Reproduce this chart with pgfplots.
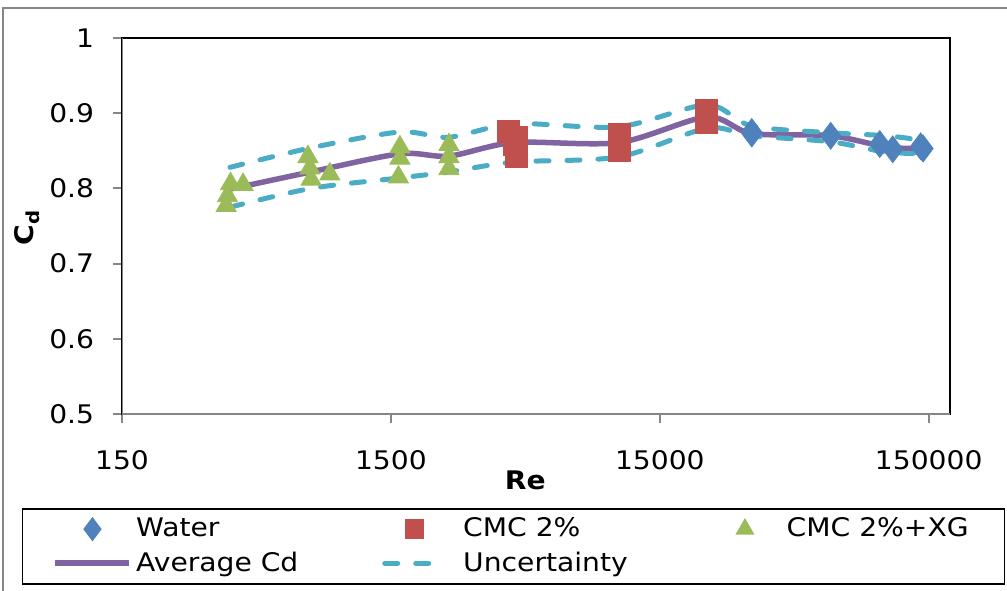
\documentclass[border=0pt]{standalone}
\usepackage{fontspec}
\setmainfont[FakeStretch=1.1]{DejaVu Sans}
\usepackage{pgfplots}
\pgfplotsset{compat=1.18}
\definecolor{cwater}{HTML}{4F81BD}
\definecolor{ccmc}{HTML}{C0504D}
\definecolor{cxg}{HTML}{9BBB59}
\definecolor{cavg}{HTML}{8064A2}
\definecolor{cunc}{HTML}{4BACC6}
\definecolor{caxis}{HTML}{868686}
\newcommand{\chartfont}{\fontsize{12.8}{15.4}\selectfont}
\begin{document}
\chartfont
\begin{tikzpicture}[font=\chartfont]
\useasboundingbox (0,0) rectangle (503.5pt,-295pt);
\draw[caxis, line width=0.8pt] (1.5pt,-300pt) -- (1.5pt,-4pt) -- (510pt,-4pt);
\begin{axis}[
  at={(61pt,-207pt)}, anchor=south west,
  scale only axis, width=414pt, height=188pt,
  xmode=log, xmin=150, xmax=180000, ymin=0.5, ymax=1,
  xtick={150,1500,15000,150000}, xticklabels={150,1500,15000,150000},
  xminorticks=false,
  ytick={0.5,0.6,0.7,0.8,0.9,1}, yticklabels={0.5,0.6,0.7,0.8,0.9,1},
  tick pos=left, tick align=outside, major tick length=4.5pt,
  every tick/.style={caxis, line width=1pt},
  axis line style={black, line width=1pt},
  yticklabel style={font=\chartfont, xshift=-5pt},
  xticklabel style={font=\chartfont, yshift=-9.5pt},
  xlabel={\textbf{Re}}, ylabel={\textbf{C\textsubscript{d}}},
  xlabel style={font=\chartfont, at={(axis description cs:0.487,-0.1755)}, anchor=center},
  ylabel style={font=\chartfont, at={(axis description cs:-0.1147,0.497)}, anchor=center, rotate=0},
  legend columns=3,
  legend style={at={(axis description cs:-0.1208,-0.25)}, anchor=north west,
    draw=black, line width=0.75pt, font=\chartfont,
    inner xsep=15pt, inner ysep=2.5pt, row sep=1.5pt},
  legend cell align=left,
]
\addplot[only marks, mark=diamond*, mark size=6.7pt, color=cwater, mark options={fill=cwater, draw=cwater},
  legend image code/.code={\path (0pt,0pt) (37pt,0pt); \draw[mark repeat=2,mark phase=2,mark size=5.5pt] plot coordinates {(0pt,0pt) (18.5pt,0pt) (37pt,0pt)};}]
table {
x y
32960 0.875
32960 0.873
64800 0.870
98600 0.859
110200 0.852
140000 0.856
143000 0.853
};
\addlegendentry{\makebox[120pt][l]{Water}}
\addplot[only marks, mark=square*, mark size=5.5pt, color=ccmc, mark options={fill=ccmc, draw=ccmc},
  legend image code/.code={\path (0pt,0pt) (37pt,0pt); \draw[mark repeat=2,mark phase=2,mark size=4.5pt] plot coordinates {(0pt,0pt) (16pt,0pt) (37pt,0pt)};}]
table {
x y
4100 0.876
4400 0.868
4300 0.858
4400 0.842
10570 0.872
10570 0.862
10570 0.850
22440 0.904
22440 0.896
22440 0.888
};
\addlegendentry{\makebox[120pt][l]{CMC 2\%}}
\addplot[only marks, mark=triangle*, mark size=5.8pt, color=cxg, mark options={fill=cxg, draw=cxg},
  legend image code/.code={\path (0pt,0pt) (37pt,0pt); \draw[mark repeat=2,mark phase=2,mark size=4.8pt] plot coordinates {(0pt,0pt) (18.5pt,0pt) (37pt,0pt)};}]
table {
x y
366 0.777
370 0.790
380 0.806
423 0.805
737 0.842
750 0.827
757 0.812
889 0.819
1620 0.855
1620 0.840
1600 0.815
2465 0.858
2465 0.842
2465 0.826
};
\addlegendentry{\makebox[92pt][l]{CMC 2\%+XG}}
\addplot[smooth, cavg, line width=2.75pt, mark=none,
  legend image code/.code={\draw[mark=none] (0pt,0pt) -- (37pt,0pt);}]
table {
x y
378 0.799
757 0.822
1620 0.846
2465 0.843
4300 0.861
10570 0.861
22440 0.895
32960 0.873
64800 0.870
104800 0.855
141300 0.853
};
\addlegendentry{Average Cd}
\addplot[smooth, cunc, line width=2.5pt, line cap=round, dash pattern=on 6.5pt off 9pt, mark=none,
  legend image code/.code={\path (0pt,0pt) (37pt,0pt); \draw[mark=none] (1pt,0pt) -- (27pt,0pt);}]
table {
x y
378 0.828
757 0.854
1620 0.875
2465 0.868
4300 0.886
10570 0.882
22440 0.911
32960 0.883
64800 0.874
104800 0.870
141300 0.864
};
\addlegendentry{Uncertainty}
\addplot[smooth, cunc, line width=2.5pt, line cap=round, dash pattern=on 6.5pt off 9pt, mark=none, forget plot]
table {
x y
378 0.775
757 0.800
1620 0.814
2465 0.822
4300 0.835
10570 0.842
22440 0.880
32960 0.870
64800 0.862
104800 0.848
141300 0.847
};
\draw[caxis, line width=1pt] (rel axis cs:0,1) -- (rel axis cs:0,0) -- (rel axis cs:1,0);
\end{axis}
\end{tikzpicture}
\end{document}
